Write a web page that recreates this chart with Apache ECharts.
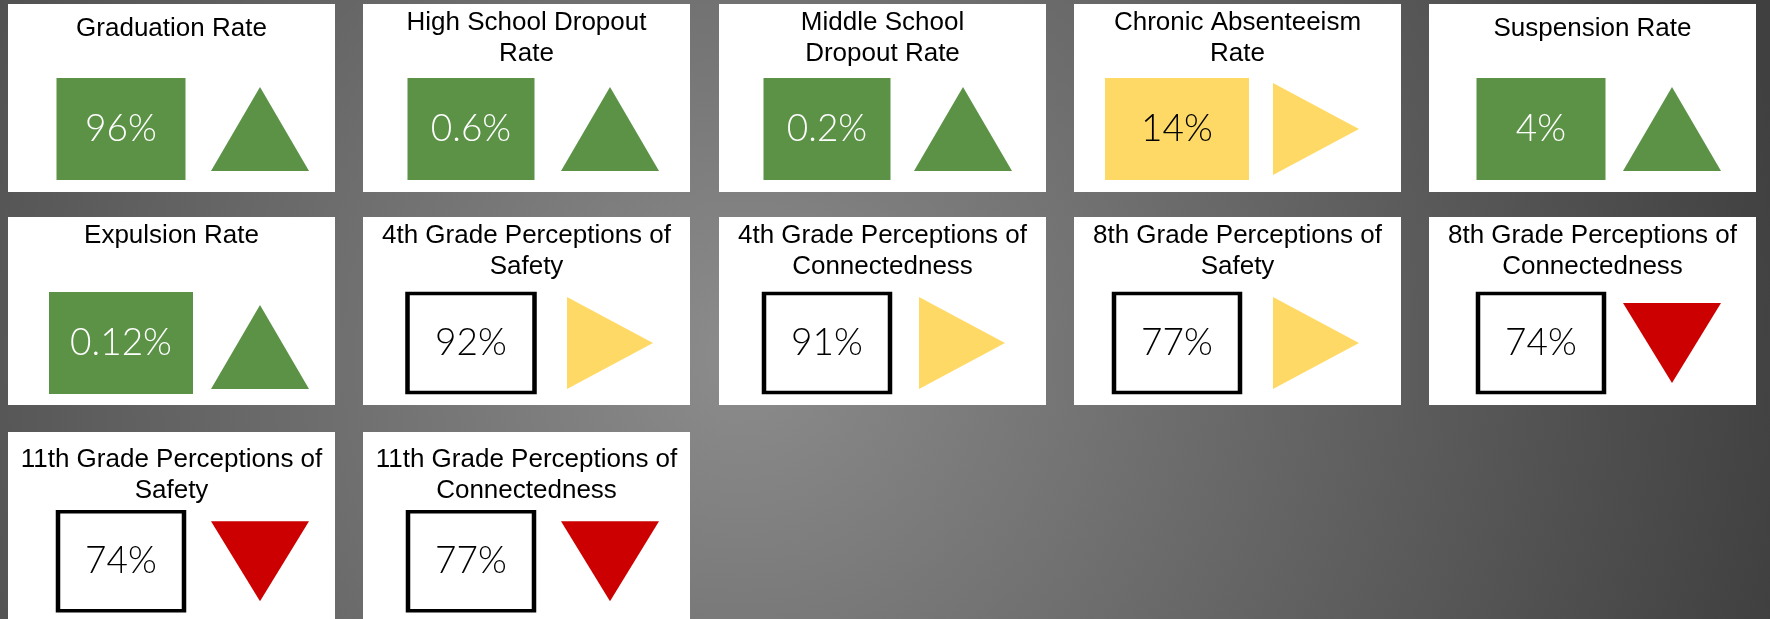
<!DOCTYPE html>
<html><head><meta charset="utf-8">
<script src="https://cdn.jsdelivr.net/npm/echarts@6/dist/echarts.min.js"></script>
<style>html,body{margin:0;padding:0;background:#555;overflow:hidden;} #c{width:1770px;height:619px;}</style>
</head><body><div id="c"></div>
<script>
// ---- data ----
const titles = [
  'Graduation Rate',
  'High School Dropout\nRate',
  'Middle School\nDropout Rate',
  'Chronic Absenteeism\nRate',
  'Suspension Rate',
  'Expulsion Rate',
  '4th Grade Perceptions of\nSafety',
  '4th Grade Perceptions of\nConnectedness',
  '8th Grade Perceptions of\nSafety',
  '8th Grade Perceptions of\nConnectedness',
  '11th Grade Perceptions of\nSafety',
  '11th Grade Perceptions of\nConnectedness'
];
const values = [96, 0.6, 0.2, 14, 4, 0.12, 92, 91, 77, 74, 74, 77];
const statuses = ['good','good','good','watch','good','good','none','none','none','none','none','none'];
const trends = ['up','up','up','flat','up','up','flat','flat','flat','down','down','down'];

// ---- layout / style (not data) ----
const cardLefts = [8, 363, 719, 1074, 1429];
const cardTops = [4, 217, 432];
const cardW = 327, cardH = 188;
const boxCx = [113,108,108,103,112,113,108,108,103,112,113,108];
const boxW  = [129,127,127,144,129,144,131,130,130,130,130,130];
const triCx = [252,247,244,242,243,252,247,243,242,243,252,247];
const rowCy = [125,126,130];
const triDy = [0,0,0,0,0,4,0,0,0,0,0,0];
const titleBase = [32,26,26,26,32,26,26,26,26,26,35,35];

const GREEN = '#5B9246', YELLOW = '#FFD966', RED = '#CC0000';
const boxFill = {good: GREEN, watch: YELLOW, none: '#FFFFFF'};
const textColor = {good: '#FFFFFF', watch: '#000000', none: '#000000'};
const textWeight = {good: 300, watch: 300, none: 300};
const triStyle = {
  up:   {color: GREEN,  size: [98, 84], rotate: 0},
  flat: {color: YELLOW, size: [92, 86], rotate: -90},
  down: {color: RED,    size: [98, 80], rotate: 180}
};

const grids = [], xAxes = [], yAxes = [], series = [], titleComps = [];
titles.forEach((t, i) => {
  const row = Math.floor(i / 5), col = i % 5;
  const left = cardLefts[col], top = cardTops[row];
  const cy = rowCy[row];
  grids.push({left: left, top: top, width: cardW, height: cardH, show: true,
    backgroundColor: '#FFFFFF', borderWidth: 0, containLabel: false});
  const k = triCx[i] - boxCx[i];
  xAxes.push({gridIndex: i, type: 'value', show: false,
    min: -boxCx[i] / k, max: (cardW - boxCx[i]) / k});
  yAxes.push({gridIndex: i, type: 'value', show: false,
    min: -(cardH - cy), max: cy});
  titleComps.push({text: t, left: left + cardW / 2, top: top + titleBase[i] - 22.5,
    textAlign: 'center', padding: 0, itemGap: 0,
    textStyle: {fontFamily: 'Liberation Sans, Arial, sans-serif', fontSize: 26,
      fontWeight: 'normal', color: '#000', lineHeight: 31}});
  const st = statuses[i];
  const outlined = st === 'none';
  const tr = triStyle[trends[i]];
  series.push({
    type: 'scatter', xAxisIndex: i, yAxisIndex: i, silent: true, z: 3,
    data: [
      {value: [0, 0], symbol: 'rect',
       symbolSize: outlined ? [boxW[i] - 4, 99] : [boxW[i], 102],
       itemStyle: {color: boxFill[st], borderColor: '#000', borderWidth: outlined ? 4 : 0, opacity: 1},
       label: {show: true, position: 'inside', formatter: values[i] + '%',
         color: textColor[st], fontFamily: 'Lato, "Open Sans", sans-serif',
         fontWeight: textWeight[st], fontSize: 37}},
      {value: [1, 0], symbol: 'triangle', symbolSize: tr.size, symbolRotate: tr.rotate,
       symbolOffset: [0, triDy[i]],
       itemStyle: {color: tr.color, opacity: 1}, label: {show: false}}
    ]
  });
});

const chart = echarts.init(document.getElementById('c'), null, {renderer: 'canvas'});
chart.setOption({
  animation: false,
  backgroundColor: {type: 'radial', x: 740, y: 360, r: 1062, global: true,
    colorStops: [{offset: 0, color: '#8C8C8C'}, {offset: 1, color: '#404040'}]},
  title: titleComps,
  grid: grids, xAxis: xAxes, yAxis: yAxes, series: series
});
</script></body></html>
